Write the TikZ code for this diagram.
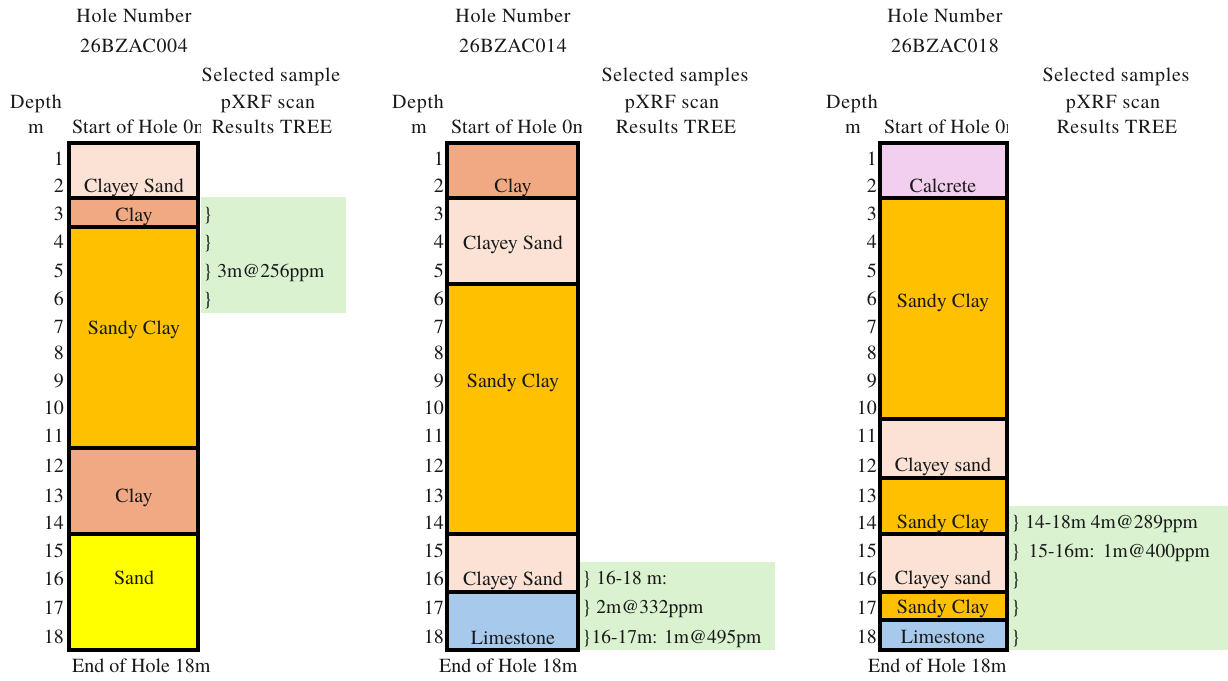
\documentclass[tikz,border=0pt]{standalone}
\usepackage{fontspec}
\setmainfont{texgyretermes}[Extension=.otf, UprightFont=*-regular, BoldFont=*-bold]
\newfontfamily\hdfont{texgyretermes}[Extension=.otf, UprightFont=*-regular, LetterSpace=3.5]
\newfontfamily\stfont{texgyretermes}[Extension=.otf, UprightFont=*-regular, LetterSpace=1.2]
\definecolor{clayeysand}{HTML}{FBE2D5}
\definecolor{clay}{HTML}{F1A983}
\definecolor{sandyclay}{HTML}{FFC000}
\definecolor{sand}{HTML}{FFFF00}
\definecolor{limestone}{HTML}{A6C9EC}
\definecolor{calcrete}{HTML}{F2CEEF}
\definecolor{tree}{HTML}{DAF2D0}
\begin{document}
\begin{tikzpicture}[x=1pt,y=-1pt,
  every node/.style={font=\fontsize{20}{24}\selectfont, inner sep=0pt, anchor=base, text=black!90},
  hd/.style={font=\hdfont\fontsize{20}{24}\selectfont},
  st/.style={font=\stfont\fontsize{20}{24}\selectfont, anchor=base west},
  layer/.style={draw=black, line width=4pt},
  num/.style={anchor=base east},
  note/.style={anchor=base west, font=\fontsize{19.5}{24}\selectfont}]
\useasboundingbox[fill=white] (0,0) rectangle (1228,680);

% green result areas
\fill[tree] (201,197) rectangle (346,313);
\fill[tree] (580,562) rectangle (775,650);
\fill[tree] (1008,506) rectangle (1228,650);

% ---------- Hole 1 ----------
\node[hd] (h1a) at (134,23) {Hole Number};
\node[hd] (h1b) at (134,52) {26BZAC004};
\node[hd] (s1a) at (271,81) {Selected sample};
\node[hd] (s1b) at (268,108) {pXRF scan};
\node[hd] (s1c) at (272,133) {Results TREE};
\node[hd] (d1a) at (36,108) {Depth};
\node[hd] (d1b) at (36,133) {m};
\begin{scope}
\clip (60,110) rectangle (200,140);
\node[st] (st1) at (72,133) {Start of Hole 0m};
\end{scope}
\node[anchor=base west] (en1) at (72,672) {End of Hole 18m};
\fill[clayeysand,layer] (69,143) rectangle (198,198);
\fill[clay,layer] (69,198) rectangle (198,227);
\fill[sandyclay,layer] (69,227) rectangle (198,448);
\fill[clay,layer] (69,448) rectangle (198,534);
\fill[sand,layer] (69,534) rectangle (198,650);
\node (l1a) at (134,192) {Clayey Sand};
\node (l1b) at (134,221) {Clay};
\node (l1c) at (134,334) {Sandy Clay};
\node (l1d) at (134,502) {Clay};
\node (l1e) at (134,584) {Sand};
\node[note] (n1a) at (203,220) {\}};
\node[note] (n1b) at (203,248) {\}};
\node[note] (n1c) at (203,277) {\} 3m@256ppm};
\node[note] (n1d) at (203,305) {\}};

% ---------- Hole 2 ----------
\node[hd] (h2a) at (513,23) {Hole Number};
\node[hd] (h2b) at (513,52) {26BZAC014};
\node[hd] (s2a) at (675,81) {Selected samples};
\node[hd] (s2b) at (672,108) {pXRF scan};
\node[hd] (s2c) at (676,133) {Results TREE};
\node[hd] (d2a) at (418,108) {Depth};
\node[hd] (d2b) at (419,133) {m};
\begin{scope}
\clip (440,110) rectangle (581,140);
\node[st] (st2) at (451,133) {Start of Hole 0m};
\end{scope}
\node[anchor=base west] (en2) at (439,672) {End of Hole 18m};
\fill[clay,layer] (447,143) rectangle (578,198);
\fill[clayeysand,layer] (447,198) rectangle (578,284);
\fill[sandyclay,layer] (447,284) rectangle (578,534);
\fill[clayeysand,layer] (447,534) rectangle (578,592);
\fill[limestone,layer] (447,592) rectangle (578,650);
\node (l2a) at (513,192) {Clay};
\node (l2b) at (513,249) {Clayey Sand};
\node (l2c) at (513,387) {Sandy Clay};
\node (l2d) at (513,585) {Clayey Sand};
\node (l2e) at (513,644) {Limestone};
\node[note] (n2a) at (582,584) {\} 16-18 m:};
\node[note] (n2b) at (582,613) {\} 2m@332ppm};
\node[note] (n2c) at (582,643) {\}16-17m: 1m@495pm};

% ---------- Hole 3 ----------
\node[hd] (h3a) at (945,23) {Hole Number};
\node[hd] (h3b) at (945,52) {26BZAC018};
\node[hd] (s3a) at (1116,81) {Selected samples};
\node[hd] (s3b) at (1113,108) {pXRF scan};
\node[hd] (s3c) at (1117,133) {Results TREE};
\node[hd] (d3a) at (852,108) {Depth};
\node[hd] (d3b) at (853,133) {m};
\begin{scope}
\clip (870,110) rectangle (1007,140);
\node[st] (st3) at (884,133) {Start of Hole 0m};
\end{scope}
\node[anchor=base west] (en3) at (868,672) {End of Hole 18m};
\fill[calcrete,layer] (880,143) rectangle (1007,198);
\fill[sandyclay,layer] (880,198) rectangle (1007,419);
\fill[clayeysand,layer] (880,419) rectangle (1007,478);
\fill[sandyclay,layer] (880,478) rectangle (1007,534);
\fill[clayeysand,layer] (880,534) rectangle (1007,592);
\fill[sandyclay,layer] (880,592) rectangle (1007,620);
\fill[limestone,layer] (880,620) rectangle (1007,650);
\node (l3a) at (943,192) {Calcrete};
\node (l3b) at (943,307) {Sandy Clay};
\node (l3c) at (943,471) {Clayey sand};
\node (l3d) at (943,528) {Sandy Clay};
\node (l3e) at (943,584) {Clayey sand};
\node (l3f) at (943,613) {Sandy Clay};
\node (l3g) at (943,643) {Limestone};
\node[note] (n3a) at (1011,528) {\} 14-18m 4m@289ppm};
\node[note] (n3b) at (1011,557) {\}~\,15-16m:~\,1m@400ppm};
\node[note] (n3c) at (1011,585) {\}};
\node[note] (n3d) at (1011,613) {\}};
\node[note] (n3e) at (1011,643) {\}};

% depth numbers
\foreach \r/\yb in {1/165,2/192,3/220,4/248,5/277,6/305,7/333,8/359,9/387,10/414,11/442,12/472,13/502,14/529,15/557,16/585,17/614,18/643}{
  \node[num] (da\r) at (64,\yb) {\r};
  \node[num] (db\r) at (444,\yb) {\r};
  \node[num] (dc\r) at (877,\yb) {\r};
}
\end{tikzpicture}
\end{document}
